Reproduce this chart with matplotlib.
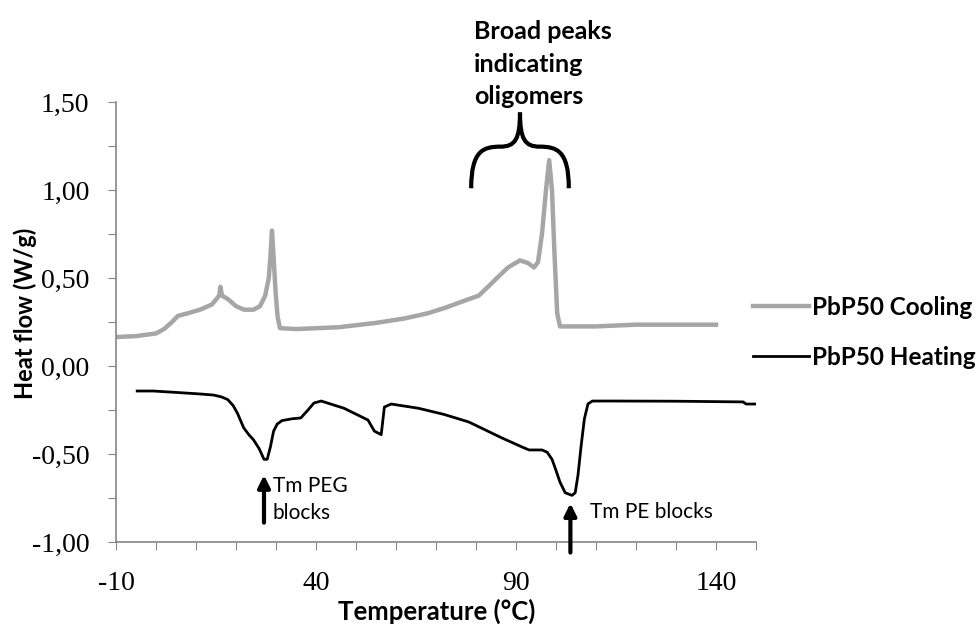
import numpy as np
import matplotlib
matplotlib.use('agg')
import matplotlib.pyplot as plt
from matplotlib.path import Path
from matplotlib.patches import PathPatch

# DSC traces of PbP50 (temperature in degC, heat flow in W/g)
cool_t = [-9.5, -5, 0, 2, 4, 5.5, 8, 11, 14, 15.8, 16.1, 16.5, 18, 20, 22,
          24.4, 26, 27.3, 28.2, 28.6, 29, 29.4, 29.9, 30.4, 31, 35, 45.5, 55,
          62.1, 68, 72.2, 77, 80.7, 83, 85.7, 88, 91, 93, 94.5, 95.5, 96.5,
          97.5, 98.3, 99, 99.6, 100.3, 101, 110, 120, 140]
cool_hf = [0.165, 0.17, 0.185, 0.21, 0.25, 0.285, 0.30, 0.32, 0.35, 0.40, 0.45,
           0.40, 0.38, 0.34, 0.32, 0.32, 0.34, 0.40, 0.50, 0.62, 0.77, 0.62,
           0.42, 0.28, 0.215, 0.21, 0.22, 0.245, 0.27, 0.30, 0.33, 0.37, 0.40,
           0.45, 0.51, 0.56, 0.60, 0.585, 0.56, 0.59, 0.75, 1.00, 1.17, 1.00,
           0.65, 0.30, 0.225, 0.225, 0.235, 0.235]

heat_t = [-4.7, -0.7, 5, 11.1, 14.4, 16.3, 17.9, 19.3, 20.4, 21.9, 23.2, 24.4,
          25.8, 27, 27.8, 28.6, 29.4, 30.3, 31.5, 34, 36.2, 38, 39.5, 41.3,
          47, 53, 54.6, 56.3, 57.1, 58.8, 65.6, 72, 78.2, 86.5, 92, 93.3,
          96.5, 97.8, 99, 99.8, 101, 102.3, 104, 104.8, 105.5, 106.3, 107.1,
          108, 109.1, 114.9, 130, 146.8, 147.5, 150]
heat_hf = [-0.142, -0.142, -0.15, -0.159, -0.165, -0.175, -0.19, -0.225, -0.27,
           -0.35, -0.39, -0.42, -0.47, -0.53, -0.53, -0.46, -0.37, -0.33, -0.31,
           -0.30, -0.295, -0.25, -0.21, -0.199, -0.24, -0.307, -0.37, -0.39,
           -0.233, -0.216, -0.24, -0.275, -0.318, -0.409, -0.465, -0.477,
           -0.477, -0.49, -0.53, -0.58, -0.66, -0.72, -0.735, -0.72, -0.62,
           -0.45, -0.30, -0.215, -0.199, -0.199, -0.2, -0.204, -0.216, -0.216]

x_ticks = list(range(-10, 151, 10))
x_labels = ['-10', '', '', '', '', '40', '', '', '', '', '90', '', '', '', '',
            '140', '']
y_ticks = [-1.0, -0.75, -0.5, -0.25, 0.0, 0.25, 0.5, 0.75, 1.0, 1.25, 1.5]
y_labels = ['-1,00', '', '-0,50', '', '0,00', '', '0,50', '', '1,00', '', '1,50']

gray = '#a6a6a6'
axis_gray = '#868686'
sans = 'Lato'

fig = plt.figure(figsize=(9.78, 6.24), dpi=100)
ax = fig.add_axes([0.1186, 0.1314, 0.6544, 0.7051])

ax.plot(cool_t, cool_hf, color=gray, lw=3.2, label='PbP50 Cooling',
        solid_joinstyle='round')
ax.plot(heat_t, heat_hf, color='black', lw=2.0, label='PbP50 Heating',
        solid_joinstyle='round')

ax.set_xlim(-10, 150)
ax.set_ylim(-1.0, 1.5)
ax.set_xticks(x_ticks)
ax.set_xticklabels(x_labels, family='Liberation Serif', fontsize=20)
ax.set_yticks(y_ticks)
ax.set_yticklabels(y_labels, family='Liberation Serif', fontsize=20)
ax.tick_params(axis='x', direction='out', length=6, color=axis_gray, pad=15)
ax.tick_params(axis='y', direction='out', length=6, color=axis_gray, pad=13)
for s in ['top', 'right']:
    ax.spines[s].set_visible(False)
for s in ['left', 'bottom']:
    ax.spines[s].set_color(axis_gray)
    ax.spines[s].set_linewidth(1.2)

# axis titles
fig.text(0.446, 0.0064, 'Temperature (°C)', family=sans, fontweight='bold',
         fontsize=18.5, ha='center', va='baseline')
fig.text(0.0256, 0.498, 'Heat flow (W/g)', family=sans, fontweight='bold',
         fontsize=17, ha='center', va='center', rotation=90)

# melting point arrows
arrow = dict(arrowstyle='-|>', lw=3, color='black', mutation_scale=18,
             shrinkA=0, shrinkB=0)
ax.annotate('', xy=(27, -0.62), xytext=(27, -0.89), arrowprops=arrow,
            annotation_clip=False)
ax.text(29.2, -0.625, 'Tm PEG\nblocks', family=sans, fontsize=15,
        va='top', ha='left', linespacing=1.45)
ax.annotate('', xy=(103.6, -0.78), xytext=(103.6, -1.06), arrowprops=arrow,
            annotation_clip=False)
ax.text(108.5, -0.83, 'Tm PE blocks', family=sans, fontsize=15,
        va='center', ha='left')

# curly brace over the oligomer peaks
bx, bw, by, bh = 91.0, 12.2, 1.01, 0.43
u = [(-1, 0), (-1, 0.5), (-0.75, 0.55), (-0.4, 0.55),
     (-0.1, 0.55), (0, 0.65), (0, 1),
     (0, 0.65), (0.1, 0.55), (0.4, 0.55),
     (0.75, 0.55), (1, 0.5), (1, 0)]
verts = [(bx + a * bw, by + b * bh) for a, b in u]
codes = [Path.MOVETO] + [Path.CURVE4] * 12
ax.add_patch(PathPatch(Path(verts, codes), fill=False, lw=3, color='black',
                       clip_on=False))
ax.text(79.5, 1.465, 'Broad peaks\nindicating\noligomers', family=sans,
        fontweight='bold', fontsize=18, va='bottom', ha='left',
        linespacing=1.5)

ax.legend(loc='center left', bbox_to_anchor=(0.98, 0.477), frameon=False,
          prop={'family': sans, 'weight': 'bold', 'size': 17.5},
          handlelength=2.3, handletextpad=0.15, labelspacing=1.1,
          borderaxespad=0)

fig.savefig('out.png', dpi=100)
